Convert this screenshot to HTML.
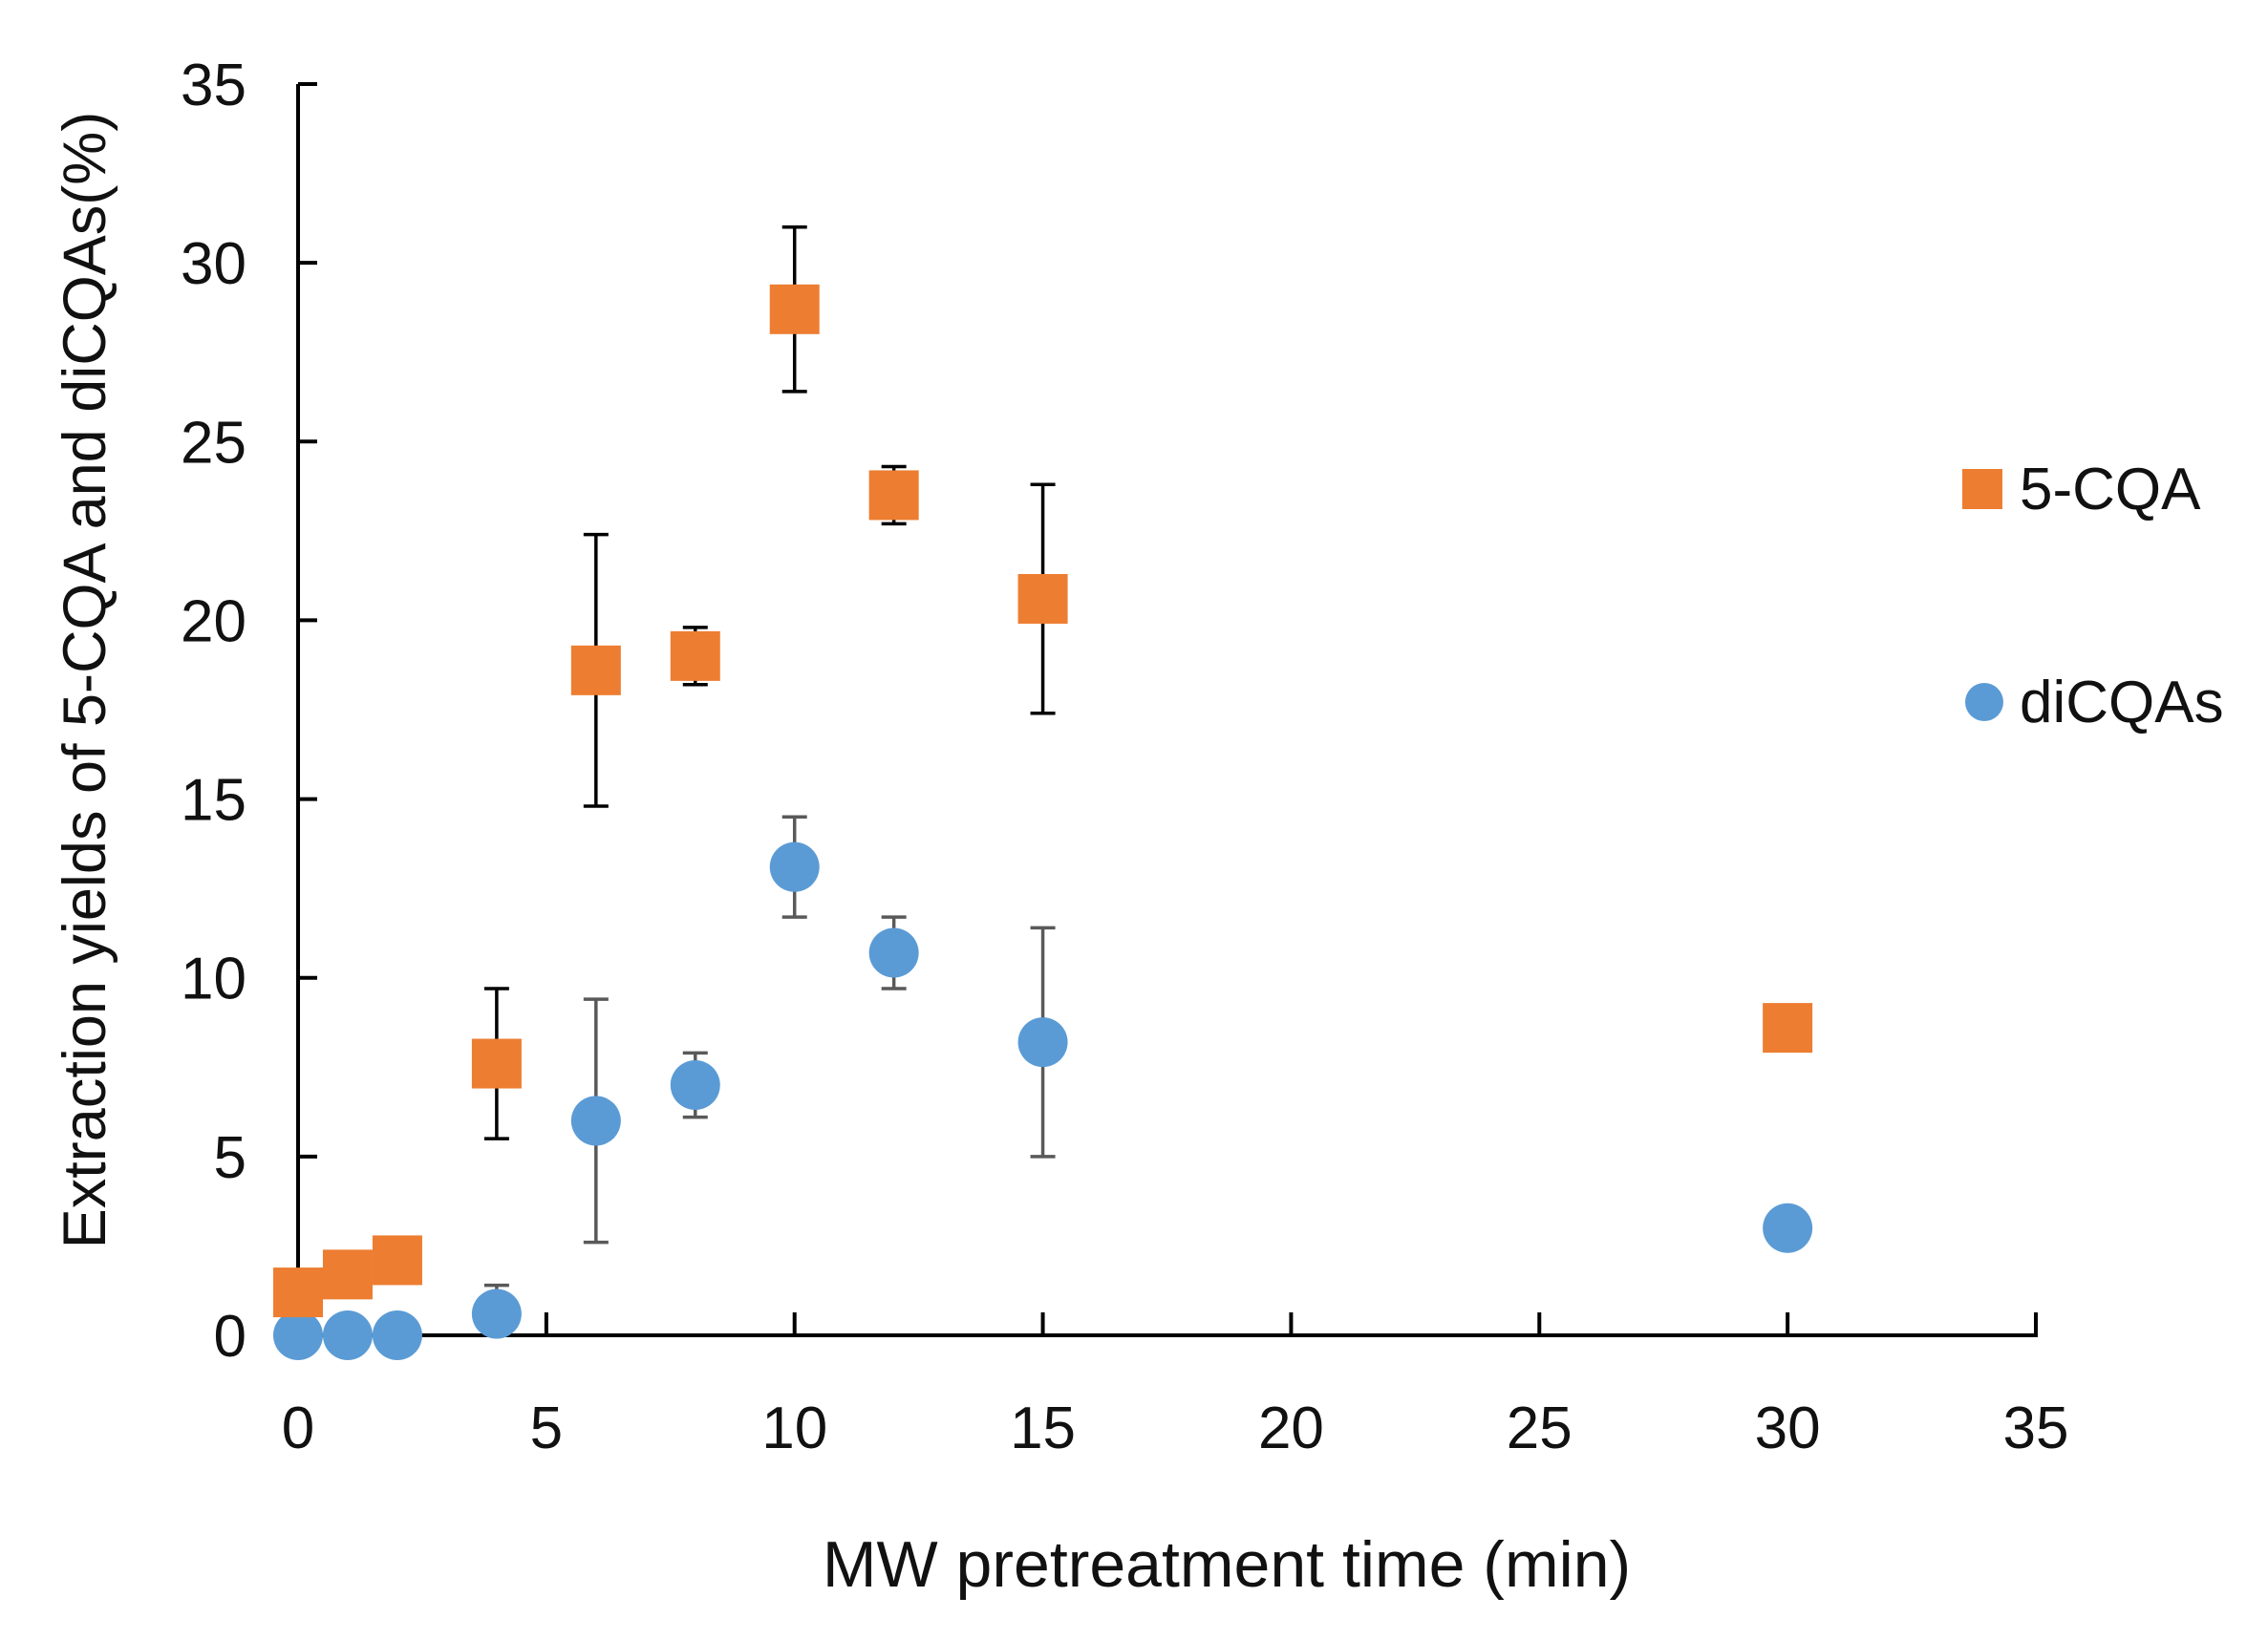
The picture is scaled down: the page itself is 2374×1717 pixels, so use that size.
<!DOCTYPE html>
<html><head><meta charset="utf-8"><style>
html,body{margin:0;padding:0;background:#fff;}
svg{display:block;font-family:"Liberation Sans","DejaVu Sans",sans-serif;}
</style></head><body>
<svg id="chart" width="2374" height="1717" viewBox="0 0 2374 1717" xmlns="http://www.w3.org/2000/svg">
<rect x="0" y="0" width="2374" height="1717" fill="#fff"/>
<g id="axes"></g>
<g id="series"></g>
<text x="1284" y="1661" font-size="68" text-anchor="middle" fill="#111">MW pretreatment time (min)</text>
<text transform="translate(110,712) rotate(-90)" font-size="63" text-anchor="middle" fill="#111">Extraction yields of 5-CQA and diCQAs(%)</text>
<g>
<rect x="2054" y="491" width="42" height="42" fill="#ED7D31"/>
<text x="2114" y="533" font-size="62" fill="#111">5-CQA</text>
<circle cx="2077" cy="735" r="20" fill="#5B9BD5"/>
<text x="2114" y="756" font-size="62" fill="#111">diCQAs</text>
</g>
</svg>
<script>
const xValues = [0, 1, 2, 4, 6, 8, 10, 12, 15, 30];
const cqaValues = [1.2, 1.7, 2.1, 7.6, 18.6, 19.0, 28.7, 23.5, 20.6, 8.6];
const cqaErrors = [0, 0, 0, 2.1, 3.8, 0.8, 2.3, 0.8, 3.2, 0];
const dicqaValues = [0, 0, 0, 0.6, 6.0, 7.0, 13.1, 10.7, 8.2, 3.0];
const dicqaErrors = [0, 0, 0, 0.8, 3.4, 0.9, 1.4, 1.0, 3.2, 0];
const xTicks = [0, 5, 10, 15, 20, 25, 30, 35];
const yTicks = [0, 5, 10, 15, 20, 25, 30, 35];

const NS = 'http://www.w3.org/2000/svg';
const X0 = 312, X1 = 2131, Y0 = 1398, Y1 = 88;
function xs(v){ return X0 + (v/35)*(X1-X0); }
function ys(v){ return Y0 - (v/35)*(Y0-Y1); }
function mk(tag, attrs, parent){
  const e = document.createElementNS(NS, tag);
  for (const k in attrs) e.setAttribute(k, attrs[k]);
  parent.appendChild(e);
  return e;
}
const axes = document.getElementById('axes');
const series = document.getElementById('series');

let l = mk('line', {x1:X0, y1:Y1, x2:X0, y2:Y0, stroke:'#000', 'stroke-width':4}, axes);


l = mk('line', {x1:X0-2, y1:Y0, x2:X1+2, y2:Y0, stroke:'#000', 'stroke-width':4}, axes);



yTicks.forEach(t => {
  const tk = mk('line', {x1:X0, y1:ys(t), x2:X0+20, y2:ys(t), stroke:'#000', 'stroke-width':4}, axes);
  
  
  const tx = mk('text', {x:258, y:ys(t)+22, 'font-size':62, 'text-anchor':'end', fill:'#111'}, axes);
  tx.textContent = t;
  
  
});
xTicks.forEach(t => {
  const tk = mk('line', {x1:xs(t), y1:Y0, x2:xs(t), y2:Y0-24, stroke:'#000', 'stroke-width':4}, axes);
  
  
  const tx = mk('text', {x:xs(t), y:1516, 'font-size':62, 'text-anchor':'middle', fill:'#111'}, axes);
  tx.textContent = t;
  
  
});

function errBar(x, v, e, color){
  if (!e) return;
  const g = mk('g', {stroke:color, 'stroke-width':3.5}, series);
  
  
  const lo = Math.max(0, v-e);
  mk('line', {x1:xs(x), y1:ys(v+e), x2:xs(x), y2:ys(lo)}, g);
  mk('line', {x1:xs(x)-13, y1:ys(v+e), x2:xs(x)+13, y2:ys(v+e)}, g);
  if (v-e > 0) mk('line', {x1:xs(x)-13, y1:ys(lo), x2:xs(x)+13, y2:ys(lo)}, g);
}
xValues.forEach((x,i) => {
  errBar(x, dicqaValues[i], dicqaErrors[i], '#595959');
  errBar(x, cqaValues[i], cqaErrors[i], '#000');
});
xValues.forEach((x,i) => {
  const c = mk('circle', {cx:xs(x), cy:ys(dicqaValues[i]), r:26, fill:'#5B9BD5'}, series);
  
  
});
xValues.forEach((x,i) => {
  const r = mk('rect', {x:xs(x)-26, y:ys(cqaValues[i])-26, width:52, height:52, fill:'#ED7D31'}, series);
  
  
});
</script>
</body></html>
